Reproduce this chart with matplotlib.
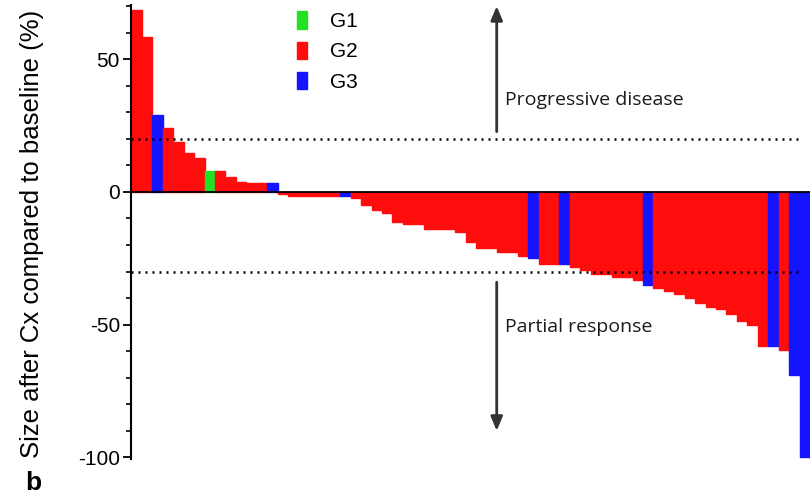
"""Waterfall plot of tumour size change after Cx, coloured by grade."""

import matplotlib
matplotlib.use("Agg")
import matplotlib.pyplot as plt
import matplotlib.transforms as mtransforms
from matplotlib.patches import Patch
import numpy as np

plt.rcParams["axes.unicode_minus"] = False

# size change per patient (%), sorted as in the figure
size_change = [
    68.4, 58.2, 29.0, 24.2, 18.9, 14.7, 12.8, 7.8, 7.8, 5.7,
    3.8, 3.2, 3.2, 3.2, -0.8, -1.4, -1.4, -1.4, -1.4, -1.4,
    -1.6, -2.2, -5.0, -6.8, -8.0, -11.2, -12.0, -12.0, -14.0, -14.0,
    -14.0, -15.0, -19.0, -21.0, -21.0, -22.8, -22.8, -24.0, -25.0, -27.3,
    -27.3, -27.0, -28.3, -29.3, -30.8, -30.8, -32.0, -32.0, -33.0, -35.0,
    -36.0, -37.5, -38.3, -40.0, -41.8, -43.5, -44.0, -46.0, -48.8, -50.0,
    -58.2, -58.2, -59.4, -69.0, -100.0,
]
grade = [
    "G2", "G2", "G3", "G2", "G2", "G2", "G2", "G1", "G2", "G2",
    "G2", "G2", "G2", "G3", "G2", "G2", "G2", "G2", "G2", "G2",
    "G3", "G2", "G2", "G2", "G2", "G2", "G2", "G2", "G2", "G2",
    "G2", "G2", "G2", "G2", "G2", "G2", "G2", "G2", "G3", "G2",
    "G2", "G3", "G2", "G2", "G2", "G2", "G2", "G2", "G2", "G3",
    "G2", "G2", "G2", "G2", "G2", "G2", "G2", "G2", "G2", "G2",
    "G2", "G3", "G2", "G3", "G3",
]
grade_names = ["G1", "G2", "G3"]
grade_colors = {"G1": "#22e022", "G2": "#ff0d0d", "G3": "#1414ff"}

progression_cut = 20
response_cut = -30

LABEL_FONT = ["Liberation Sans", "DejaVu Sans"]
NOTE_FONT = ["Open Sans", "DejaVu Sans"]


def main() -> None:
    fig = plt.figure(figsize=(8.11, 4.97), dpi=100)
    fig.patch.set_facecolor("white")
    ax = fig.add_axes([131 / 811, 1 - 458.5 / 497, 679 / 811, 453.5 / 497])

    x = np.arange(len(size_change))
    colors = [grade_colors[g] for g in grade]
    ax.bar(x, size_change, width=1.0, color=colors, edgecolor=colors,
           linewidth=1.0, zorder=2)

    ax.axhline(0, color="black", lw=1.3, zorder=3)
    ax.axhline(progression_cut, xmax=0.99, color="black", lw=1.8,
               ls=(0, (0.8, 2.0)), zorder=4)
    ax.axhline(response_cut, xmax=0.985, color="black", lw=1.8,
               ls=(0, (0.8, 2.0)), zorder=4)

    ax.set_xlim(-0.55, len(size_change) - 0.5)
    ax.set_ylim(-100.4, 70.4)
    ax.set_xticks([])
    ax.set_yticks([-100, -50, 0, 50])
    ax.set_yticks(np.arange(-100, 71, 10), minor=True)
    ax.tick_params(axis="y", which="major", length=6, width=1.3, pad=2,
                   labelsize=15)
    ax.tick_params(axis="y", which="minor", length=3.5, width=1.2)
    for lab in ax.get_yticklabels():
        lab.set_family(LABEL_FONT)
    for side in ("top", "right", "bottom"):
        ax.spines[side].set_visible(False)
    ax.spines["left"].set_linewidth(1.5)

    ax.set_ylabel("Size after Cx compared to baseline (%)", fontsize=18.5,
                  family=LABEL_FONT)
    ax.yaxis.set_label_coords(-0.128, 0.495)

    # arrows and annotations
    trans = mtransforms.blended_transform_factory(ax.transAxes, ax.transData)
    arrow_x = 0.5386
    arrow_style = dict(arrowstyle="-|>,head_length=0.6,head_width=0.25",
                       color="#333333", lw=2, mutation_scale=14,
                       shrinkA=0, shrinkB=0)
    ax.annotate("", xy=(arrow_x, 70), xytext=(arrow_x, 22.7), xycoords=trans,
                textcoords=trans, arrowprops=arrow_style)
    ax.annotate("", xy=(arrow_x, -90), xytext=(arrow_x, -34), xycoords=trans,
                textcoords=trans, arrowprops=arrow_style)
    ax.text(0.551, 34.6, "Progressive disease", transform=trans, ha="left",
            va="center", fontsize=14, family=NOTE_FONT, color="#1a1a1a")
    ax.text(0.551, -51, "Partial response", transform=trans, ha="left",
            va="center", fontsize=14, family=NOTE_FONT, color="#1a1a1a")

    handles = [Patch(facecolor=grade_colors[g], edgecolor=grade_colors[g])
               for g in grade_names]
    ax.legend(handles, grade_names, loc="upper left",
              bbox_to_anchor=(0.2445, 0.986), frameon=False,
              prop={"family": LABEL_FONT, "size": 15},
              handlelength=0.5, handleheight=0.9, handletextpad=1.1,
              labelspacing=0.5, borderpad=0, borderaxespad=0)

    fig.text(25 / 811, 7 / 497, "b", fontsize=19, fontweight="bold",
             family=LABEL_FONT, va="baseline")

    fig.savefig("out.png", dpi=100)
    plt.close(fig)


if __name__ == "__main__":
    main()
